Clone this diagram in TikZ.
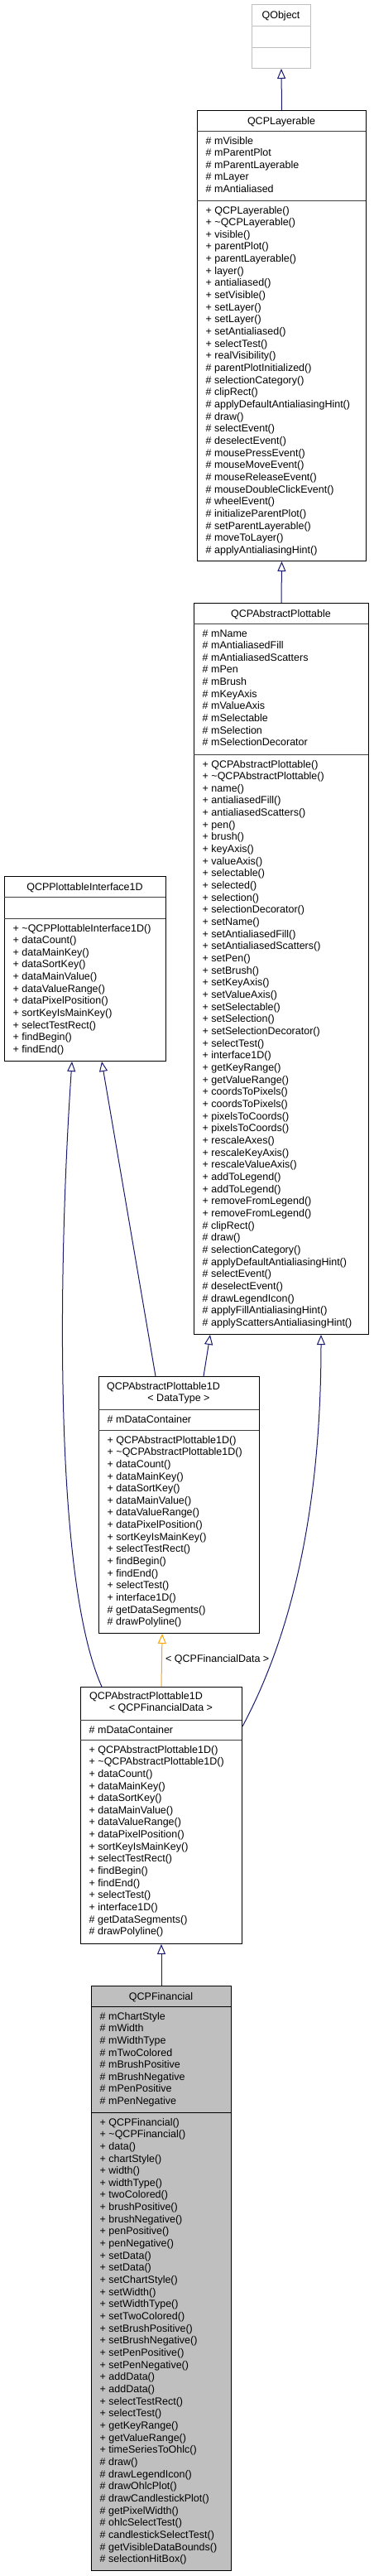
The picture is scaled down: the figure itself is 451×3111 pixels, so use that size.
\documentclass[tikz,border=0pt]{standalone}
\usepackage{fontspec}
\setmainfont{Liberation Sans}
\usetikzlibrary{arrows.meta,calc}
\definecolor{edgeblue}{HTML}{191970}
\definecolor{boxgrey}{HTML}{BFBFBF}
\definecolor{sepgrey}{HTML}{404040}
\definecolor{tmplorange}{HTML}{FFA500}
\newcommand\memfont{\fontsize{12.5}{14.66}\selectfont}
\newcommand\pp{+\ }
\newcommand\hh{\#\ }
\newcommand\tl{\textasciitilde}
\newcommand\mlines[4]{\foreach \mtext [count=\i from 0] in {#4} {\node[mem] (#1\i) at ({#2},{#3+16+\i*14.66}) {\mtext};}}
\tikzset{
  clsbox/.style={draw=black, fill=white, line width=1pt, inner sep=0pt, anchor=north west},
  sepl/.style={draw=sepgrey, line width=1pt},
  mem/.style={font=\memfont, inner sep=0pt, anchor=base west, text=black},
  ttl/.style={font=\memfont, inner sep=0pt, anchor=base, text=black},
  inh/.style={draw=edgeblue, line width=1pt, -{Triangle[length=12pt,width=10pt,fill=white]}},
  tmpl/.style={draw=tmplorange, line width=1pt, -{Triangle[length=12pt,width=10pt,fill=white]}}
}
\begin{document}
\begin{tikzpicture}[x=1pt,y=-1pt]
\useasboundingbox (0,0) rectangle (451,3111);
\fill[white] (0,0) rectangle (451,3111);

% QObject
\node[clsbox, draw=boxgrey, minimum width=71pt, minimum height=77pt] (obj) at (304,5) {};
\draw[draw=boxgrey, line width=1pt] (304,31) -- (375,31) (304,57) -- (375,57);
\node[ttl] (objT) at (339.5,22.5) {QObject};

% QCPLayerable
\node[clsbox, minimum width=204pt, minimum height=544pt] (lay) at (238,133) {};
\draw[sepl] (238,158) -- (442,158) (238,242) -- (442,242);
\node[ttl] (layT) at (340,150) {QCPLayerable};
\mlines{layA}{248.5}{158}{\hh mVisible, \hh mParentPlot, \hh mParentLayerable, \hh mLayer, \hh mAntialiased}
\mlines{layM}{248.5}{242}{\pp QCPLayerable(), \pp \tl QCPLayerable(), \pp visible(), \pp parentPlot(), \pp parentLayerable(), \pp layer(), \pp antialiased(), \pp setVisible(), \pp setLayer(), \pp setLayer(), \pp setAntialiased(), \pp selectTest(), \pp realVisibility(), \hh parentPlotInitialized(), \hh selectionCategory(), \hh clipRect(), \hh applyDefaultAntialiasingHint(), \hh draw(), \hh selectEvent(), \hh deselectEvent(), \hh mousePressEvent(), \hh mouseMoveEvent(), \hh mouseReleaseEvent(), \hh mouseDoubleClickEvent(), \hh wheelEvent(), \hh initializeParentPlot(), \hh setParentLayerable(), \hh moveToLayer(), \hh applyAntialiasingHint()}

% QCPAbstractPlottable
\node[clsbox, minimum width=211pt, minimum height=883pt] (abs) at (234,728) {};
\draw[sepl] (234,753) -- (445,753) (234,911) -- (445,911);
\node[ttl] (absT) at (339.5,745) {QCPAbstractPlottable};
\mlines{absA}{244.5}{753}{\hh mName, \hh mAntialiasedFill, \hh mAntialiasedScatters, \hh mPen, \hh mBrush, \hh mKeyAxis, \hh mValueAxis, \hh mSelectable, \hh mSelection, \hh mSelectionDecorator}
\mlines{absM}{244.5}{911}{\pp QCPAbstractPlottable(), \pp \tl QCPAbstractPlottable(), \pp name(), \pp antialiasedFill(), \pp antialiasedScatters(), \pp pen(), \pp brush(), \pp keyAxis(), \pp valueAxis(), \pp selectable(), \pp selected(), \pp selection(), \pp selectionDecorator(), \pp setName(), \pp setAntialiasedFill(), \pp setAntialiasedScatters(), \pp setPen(), \pp setBrush(), \pp setKeyAxis(), \pp setValueAxis(), \pp setSelectable(), \pp setSelection(), \pp setSelectionDecorator(), \pp selectTest(), \pp interface1D(), \pp getKeyRange(), \pp getValueRange(), \pp coordsToPixels(), \pp coordsToPixels(), \pp pixelsToCoords(), \pp pixelsToCoords(), \pp rescaleAxes(), \pp rescaleKeyAxis(), \pp rescaleValueAxis(), \pp addToLegend(), \pp addToLegend(), \pp removeFromLegend(), \pp removeFromLegend(), \hh clipRect(), \hh draw(), \hh selectionCategory(), \hh applyDefaultAntialiasingHint(), \hh selectEvent(), \hh deselectEvent(), \hh drawLegendIcon(), \hh applyFillAntialiasingHint(), \hh applyScattersAntialiasingHint()}

% QCPPlottableInterface1D
\node[clsbox, minimum width=195pt, minimum height=223pt] (ifc) at (5,1058) {};
\draw[sepl] (5,1083) -- (200,1083) (5,1109) -- (200,1109);
\node[ttl] (ifcT) at (102.5,1075) {QCPPlottableInterface1D};
\mlines{ifcM}{15.5}{1109}{\pp \tl QCPPlottableInterface1D(), \pp dataCount(), \pp dataMainKey(), \pp dataSortKey(), \pp dataMainValue(), \pp dataValueRange(), \pp dataPixelPosition(), \pp sortKeyIsMainKey(), \pp selectTestRect(), \pp findBegin(), \pp findEnd()}

% QCPAbstractPlottable1D< DataType >
\node[clsbox, minimum width=194pt, minimum height=310pt] (tpl) at (119,1662) {};
\draw[sepl] (119,1702) -- (313,1702) (119,1727) -- (313,1727);
\node[mem] (tplT1) at (129,1678.5) {QCPAbstractPlottable1D};
\node[ttl] (tplT2) at (216,1692.8) {< DataType >};
\mlines{tplA}{129.5}{1702}{\hh mDataContainer}
\mlines{tplM}{129.5}{1727}{\pp QCPAbstractPlottable1D(), \pp \tl QCPAbstractPlottable1D(), \pp dataCount(), \pp dataMainKey(), \pp dataSortKey(), \pp dataMainValue(), \pp dataValueRange(), \pp dataPixelPosition(), \pp sortKeyIsMainKey(), \pp selectTestRect(), \pp findBegin(), \pp findEnd(), \pp selectTest(), \pp interface1D(), \hh getDataSegments(), \hh drawPolyline()}

% QCPAbstractPlottable1D< QCPFinancialData >
\node[clsbox, minimum width=195pt, minimum height=310pt] (fone) at (97,2037) {};
\draw[sepl] (97,2077) -- (292,2077) (97,2101) -- (292,2101);
\node[mem] (foneT1) at (108,2052.8) {QCPAbstractPlottable1D};
\node[ttl] (foneT2) at (194.5,2066.8) {< QCPFinancialData >};
\mlines{foneA}{107.5}{2077}{\hh mDataContainer}
\mlines{foneM}{107.5}{2101}{\pp QCPAbstractPlottable1D(), \pp \tl QCPAbstractPlottable1D(), \pp dataCount(), \pp dataMainKey(), \pp dataSortKey(), \pp dataMainValue(), \pp dataValueRange(), \pp dataPixelPosition(), \pp sortKeyIsMainKey(), \pp selectTestRect(), \pp findBegin(), \pp findEnd(), \pp selectTest(), \pp interface1D(), \hh getDataSegments(), \hh drawPolyline()}

% QCPFinancial
\node[clsbox, fill=boxgrey, minimum width=169pt, minimum height=706pt] (fin) at (110,2398) {};
\draw[sepl, draw=black] (110,2423) -- (279,2423) (110,2551) -- (279,2551);
\node[ttl] (finT) at (194.5,2415) {QCPFinancial};
\mlines{finA}{120.5}{2423}{\hh mChartStyle, \hh mWidth, \hh mWidthType, \hh mTwoColored, \hh mBrushPositive, \hh mBrushNegative, \hh mPenPositive, \hh mPenNegative}
\mlines{finM}{120.5}{2551}{\pp QCPFinancial(), \pp \tl QCPFinancial(), \pp data(), \pp chartStyle(), \pp width(), \pp widthType(), \pp twoColored(), \pp brushPositive(), \pp brushNegative(), \pp penPositive(), \pp penNegative(), \pp setData(), \pp setData(), \pp setChartStyle(), \pp setWidth(), \pp setWidthType(), \pp setTwoColored(), \pp setBrushPositive(), \pp setBrushNegative(), \pp setPenPositive(), \pp setPenNegative(), \pp addData(), \pp addData(), \pp selectTestRect(), \pp selectTest(), \pp getKeyRange(), \pp getValueRange(), \pp timeSeriesToOhlc(), \hh draw(), \hh drawLegendIcon(), \hh drawOhlcPlot(), \hh drawCandlestickPlot(), \hh getPixelWidth(), \hh ohlcSelectTest(), \hh candlestickSelectTest(), \hh getVisibleDataBounds(), \hh selectionHitBox()}

% connectors
\draw[inh] (lay.north) -- (obj.south);
\draw[inh] (abs.north) -- (lay.south);
\draw[inh] ([xshift=127pt]tpl.north west) -- ([xshift=20pt]abs.south west);
\draw[inh] ([xshift=69pt]tpl.north west) -- ([xshift=118pt]ifc.south west);
\draw[inh] ([xshift=26pt]fone.north west) .. controls (62,1900) and (72,1500) .. ([xshift=82pt]ifc.south west);
\draw[inh] ([yshift=-48pt]fone.north east) .. controls (360,1960) and (388,1800) .. ([xshift=154pt]abs.south west);
\draw[tmpl] (fone.north) -- ([xshift=77pt]tpl.south west);
\node[mem] (lbl) at (200,2007.5) {< QCPFinancialData >};
\draw[inh] (fin.north) -- (fone.south);
\end{tikzpicture}
\end{document}
